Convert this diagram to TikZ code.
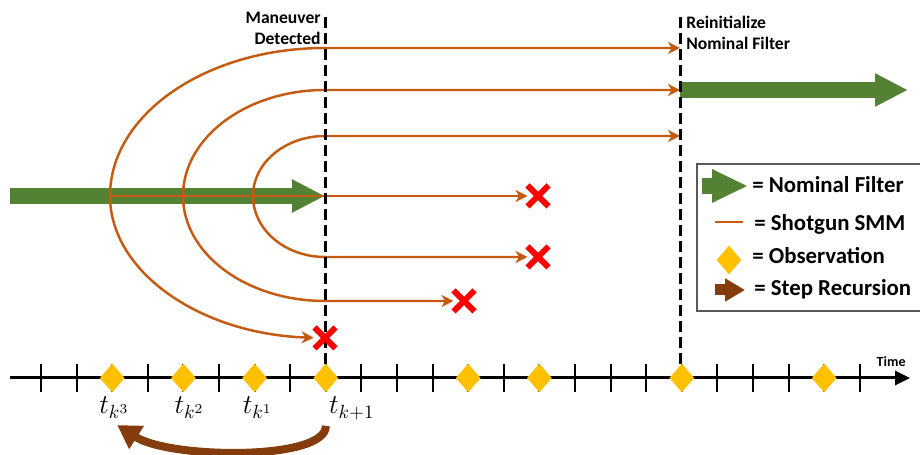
\documentclass[tikz,border=0pt]{standalone}
\usepackage{fix-cm}
\usepackage{fontspec}
\setmainfont{Carlito}
\usetikzlibrary{arrows.meta, positioning, shapes.geometric, shapes.misc}
\definecolor{nomgreen}{RGB}{84,130,53}
\definecolor{smmorange}{RGB}{197,90,17}
\definecolor{obsgold}{RGB}{255,192,0}
\definecolor{recbrown}{RGB}{132,60,12}
\pgfdeclarelayer{front}
\pgfsetlayers{main,front}

\begin{document}
\begin{tikzpicture}[
    x=0.02cm, y=0.02cm,
    nominal/.style={nomgreen, line width=0.32cm, -{Triangle[length=0.66cm, width=0.62cm]}},
    smm/.style={smmorange, line width=1.4pt, -{Stealth[length=0.24cm, width=0.24cm, inset=0.07cm]}},
    smmline/.style={smmorange, line width=1.4pt},
    eventline/.style={black, line width=0.06cm, dash pattern=on 0.22cm off 0.1cm},
    eventlab/.style={font=\fontsize{10}{12}\selectfont\bfseries, inner sep=0pt},
    miss/.style={cross out, draw=red, line width=0.12cm, minimum size=0.3cm, inner sep=0pt},
    obs/.style={diamond, fill=obsgold, minimum width=0.5cm, minimum height=0.58cm, inner sep=0pt},
    tickmark/.style={black, line width=1.2pt},
    timeline/.style={black, line width=0.06cm, -{Triangle[length=0.3cm, width=0.28cm]}},
    tlab/.style={font=\fontsize{15.5}{18}\selectfont, anchor=base},
    steprec/.style={recbrown, line width=0.16cm, -{Triangle[length=0.46cm, width=0.52cm]}},
    legendbox/.style={draw=gray!70!black, line width=1pt},
    legtext/.style={font=\fontsize{13}{15}\selectfont\bfseries, anchor=base west, inner sep=0pt},
]
    \useasboundingbox (0,0) rectangle (920,455);
    \clip (0,0) rectangle (920,455);

    % Filter dropouts
    \begin{pgfonlayer}{front}
        \node[miss] (cut1) at (538,259) {};
        \node[miss] (cut2) at (538,198) {};
        \node[miss] (cut3) at (464,154) {};
        \node[miss] (cut4) at (325,117) {};
    \end{pgfonlayer}

    % Nominal filter
    \coordinate (nomstart) at (10,259);
    \coordinate (mdhit) at (325,259);
    \coordinate (reinit) at (680,365);
    \coordinate (nomend) at (908,365);
    \draw[nominal] (nomstart) -- (mdhit);
    \draw[nominal] (reinit) -- (nomend);

    % Shotgun SMM branches
    \coordinate (o1) at (110,259);
    \coordinate (o2) at (183,259);
    \coordinate (o3) at (253,259);
    \coordinate (ri1) at (680,407);
    \coordinate (ri3) at (680,319);
    \draw[smm] (o1) -- (cut1);
    \draw[smm] (o1) arc[start angle=180, end angle=90, x radius=215, y radius=148] -- (ri1);
    \draw[smm] (o1) arc[start angle=180, end angle=267, x radius=215, y radius=142];
    \draw[smm] (o2) arc[start angle=180, end angle=90, x radius=142, y radius=106] -- (reinit);
    \draw[smm] (o2) arc[start angle=180, end angle=270, x radius=142, y radius=105] -- (cut3);
    \draw[smm] (o3) arc[start angle=180, end angle=90, x radius=72, y radius=60] -- (ri3);
    \draw[smm] (o3) arc[start angle=180, end angle=270, x radius=72, y radius=61] -- (cut2);

    % Event lines
    \coordinate (mdtop) at (325,438);
    \coordinate (mdbot) at (325,80);
    \coordinate (ritop) at (680,438);
    \coordinate (ribot) at (680,80);
    \draw[eventline] (mdtop) -- (mdbot);
    \draw[eventline] (ritop) -- (ribot);
    \node[eventlab, align=right, anchor=east] (mdlab) at (321,427) {Maneuver\\Detected};
    \node[eventlab, align=left, anchor=west] (rilab) at (686,422) {Reinitialize\\Nominal Filter};

    % Time axis
    \coordinate (tstart) at (10,77);
    \coordinate (tend) at (910,77);
    \draw[timeline] (tstart) -- (tend);
    \node[font=\fontsize{8}{10}\selectfont\bfseries, anchor=base east, inner sep=0pt] (timelab) at (906,88) {Time};
    \foreach \i in {0,...,23}
        \draw[tickmark] ({41+35.6*\i},63) -- ({41+35.6*\i},91);
    \foreach \i in {2,4,6,8,12,14,18,22}
        \node[obs] (obs\i) at ({41+35.6*\i},77) {};

    % Observation times
    \node[tlab, xshift=0.04cm, yshift=-0.72cm] (lk3) at (obs2) {$t_{k^3}$};
    \node[tlab, xshift=0.12cm, yshift=-0.72cm] (lk2) at (obs4) {$t_{k^2}$};
    \node[tlab, xshift=0.06cm, yshift=-0.72cm] (lk1) at (obs6) {$t_{k^1}$};
    \node[tlab, xshift=0.52cm, yshift=-0.72cm] (lkp1) at (obs8) {$t_{k+1}$};

    % Step recursion
    \draw[steprec] ([xshift=0.06cm]lkp1.south west) .. controls (326,-6) and (170,-4) .. ([xshift=-0.36cm]lk3.south east);

    % Legend
    \draw[legendbox] (697,144) rectangle (960,291);
    \draw[nominal, -{Triangle[length=0.72cm, width=0.62cm]}] (702,269) -- (748,269);
    \node[legtext] (lnom) at (752,262) {= Nominal Filter};
    \draw[smmline] (715,233) -- (743,233);
    \node[legtext] (lsmm) at (754,224) {= Shotgun SMM};
    \node[obs] (lobs) at (729,195) {};
    \node[legtext] (lobstext) at (752,191) {= Observation};
    \draw[steprec, line width=0.22cm, -{Triangle[length=0.4cm, width=0.44cm]}] (715,165) -- (745,165);
    \node[legtext] (lstep) at (754,159) {= Step Recursion};

\end{tikzpicture}
\end{document}
